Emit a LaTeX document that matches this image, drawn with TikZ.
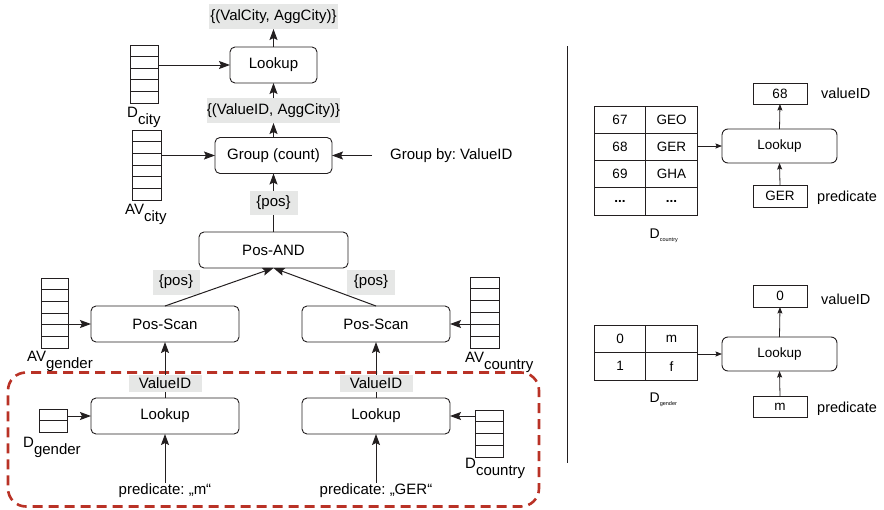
\documentclass[tikz,border=0pt]{standalone}
\usepackage{fontspec}
\setmainfont{Liberation Sans}
\usetikzlibrary{arrows.meta,calc}
\frenchspacing

\definecolor{ink}{RGB}{35,31,32}
\definecolor{lblgray}{RGB}{230,231,230}
\definecolor{zonered}{RGB}{185,50,38}

% column of storage cells: name, left x, top y, number of cells, width, height
\newcommand\cellstack[6]{%
  \node[stackcol, minimum width=#5pt, minimum height=#6pt, anchor=north west] (#1) at (#2,#3) {};
  \foreach \k in {1,...,#4}
    \draw[cellrule] ($(#1.north west)!{\k/#4}!(#1.south west)$) -- ($(#1.north east)!{\k/#4}!(#1.south east)$);
}
% subscript set at full size, lowered
\newcommand\lowsub[1]{\raisebox{-7pt}{#1}}
% tiny subscript used under the dictionary tables
\newcommand\tinysub[1]{\raisebox{-3pt}{\fontsize{5.5}{6}\selectfont #1}}

\begin{document}
\begin{tikzpicture}[x=1pt,y=-1pt,
  font=\fontsize{15}{18}\selectfont,
  op/.style={draw=ink, line width=0.9pt, rounded corners=5pt, minimum height=36pt, inner sep=0pt, outer sep=0pt},
  tag/.style={fill=lblgray, inner sep=0pt, outer sep=0pt, minimum height=25pt},
  stackcol/.style={draw=ink, line width=0.9pt, inner sep=0pt, outer sep=0pt},
  cellrule/.style={draw=ink, line width=0.9pt},
  arr/.style={draw=ink, line width=1pt, -{Stealth[length=11pt,width=8pt,inset=2pt]}},
  arrs/.style={draw=ink, line width=0.8pt, -{Stealth[length=6.5pt,width=5pt,inset=1pt]}},
  sublabel/.style={anchor=base west, inner sep=0pt},
  sbox/.style={draw=ink, line width=0.9pt, minimum width=54pt, minimum height=21pt, inner sep=0pt, outer sep=0pt},
  tablebox/.style={draw=ink, line width=0.9pt, inner sep=0pt, outer sep=0pt, minimum width=103pt},
  sidetext/.style={anchor=west, inner sep=0pt, font=\fontsize{14.5}{17}\selectfont},
  zone/.style={draw=zonered, line width=2.6pt, dash pattern=on 10pt off 6pt, rounded corners=18pt, inner sep=0pt}
]
\useasboundingbox (0,0) rectangle (884,509);

% ---------------- query plan ----------------
\node[zone, minimum width=531pt, minimum height=134pt] (lookupzone) at (273.5,439.5) {};

\node[tag, minimum width=129pt] (outTop) at (273.5,16.5) {\{(ValCity, AggCity)\}};
\node[op, minimum width=87pt]  (lookC)  at (273.5,65)    {Lookup};
\node[tag, minimum width=133pt] (outMid) at (273.5,110.5) {\{(ValueID, AggCity)\}};
\node[op, minimum width=117pt] (group)  at (273.5,155.5) {Group (count)};
\node[op, minimum width=149pt] (posand) at (273.5,250)   {Pos-AND};
\node[tag, minimum width=47pt] (posLeft)  at (176,282) {\{pos\}};
\node[tag, minimum width=48pt] (posRight) at (371,282) {\{pos\}};
\node[op, minimum width=148pt] (scanL) at (165,324) {Pos-Scan};
\node[op, minimum width=148pt] (scanR) at (376,324) {Pos-Scan};
\node[op, minimum width=148pt] (lookL) at (165,416) {Lookup};
\node[op, minimum width=148pt] (lookR) at (376,416) {Lookup};
\node[inner sep=1pt] (predL) at (165,491) {predicate: „m“};
\node[inner sep=1pt] (predR) at (376,491) {predicate: „GER“};
\node[anchor=west, inner sep=0pt] (groupby) at (390,155.5) {Group by: ValueID};
\coordinate (gbtail) at (372,155.5);

% attribute vectors and dictionaries
\cellstack{dcity}{130}{45}{5}{28}{58}
\cellstack{avcity}{132}{130}{6}{29}{70}
\cellstack{avgender}{41}{278}{6}{27}{70}
\cellstack{avcountry}{470}{277}{6}{29}{71}
\cellstack{dgender}{39}{409}{2}{28}{23}
\cellstack{dcountrycol}{475}{410}{4}{28}{47}

\node[sublabel] (lblDcity)     at (127,117) {D\lowsub{city}};
\node[sublabel] (lblAVcity)    at (125,214) {AV\lowsub{city}};
\node[sublabel] (lblAVgender)  at (27,361)  {AV\lowsub{gender}};
\node[sublabel] (lblAVcountry) at (465,362) {AV\lowsub{country}};
\node[sublabel] (lblDgender)   at (23,447)  {D\lowsub{gender}};
\node[sublabel] (lblDcountry)  at (465,468) {D\lowsub{country}};

% data flow
\draw[arr] (lookC.north) -- (outTop.south);
\draw[arr] (outMid.north) -- (lookC.south);
\draw[arr] (group.north) -- (outMid.south);
\draw[arr] (posand.north) -- (group.south)
  node[tag, minimum width=48pt, minimum height=24pt, midway] (posMid) {\{pos\}};
\draw[arr] (scanL.north) -- (posand.south);
\draw[arr] (scanR.north) -- (posand.south);
\draw[arr] (lookL.north) -- (scanL.south)
  node[tag, minimum width=73pt, minimum height=17pt, pos=0.26] (vidL) {ValueID};
\draw[arr] (lookR.north) -- (scanR.south)
  node[tag, minimum width=73pt, minimum height=17pt, pos=0.26] (vidR) {ValueID};
\draw[arr] (predL.north) -- (lookL.south);
\draw[arr] (predR.north) -- (lookR.south);

\draw[arr] (dcity.east |- lookC.west) -- (lookC.west);
\draw[arr] (avcity.east |- group.west) -- (group.west);
\draw[arr] (gbtail) -- (group.east);
\draw[arr] (avgender.east |- scanL.west) -- (scanL.west);
\draw[arr] (avcountry.west |- scanR.east) -- (scanR.east);
\draw[arr] (dgender.east |- lookL.west) -- (lookL.west);
\draw[arr] (dcountrycol.west |- lookR.east) -- (lookR.east);

% separator
\coordinate (sepTop) at (567,46);
\coordinate (sepBot) at (567,463);
\draw[ink, line width=1pt] (sepTop) -- (sepBot);

% ---------------- dictionary lookups ----------------
\begin{scope}[font=\fontsize{13.5}{16}\selectfont]
  % country dictionary
  \node[tablebox, minimum height=109pt] (dcountry) at (645.5,160.5) {};
  \draw[cellrule] (dcountry.north) -- (dcountry.south);
  \foreach \k in {1,2,3}
    \draw[cellrule] ($(dcountry.north west)!{\k/4}!(dcountry.south west)$) -- ($(dcountry.north east)!{\k/4}!(dcountry.south east)$);
  \foreach \r/\id/\val [count=\i] in {119.6/67/GEO, 146.9/68/GER, 174.1/69/GHA}{
    \node (cid\i) at (620,\r) {\id};
    \node (cval\i) at (671.5,\r) {\val};
  }
  \node (cid4) at (620,201.4) {\textbf{...}};
  \node (cval4) at (671.5,201.4) {\textbf{...}};
  \node[sublabel, font=\fontsize{14}{16}\selectfont] (lblDcountryR) at (649.5,238) {D\tinysub{country}};

  \node[op, rounded corners=6pt, minimum width=115pt, minimum height=34pt] (look1) at (779.5,146) {Lookup};
  \node[sbox] (val1) at (780,93.5) {68};
  \node[sbox, minimum height=22pt] (pred1) at (780,196) {GER};
  \node[sidetext] (vtxt1) at (821,93) {valueID};
  \node[sidetext] (ptxt1) at (817,198) {predicate};
  \draw[arrs] (dcountry.east |- look1.west) -- (look1.west);
  \draw[arrs] (look1.north) -- (val1.south);
  \draw[arrs] (pred1.north) -- (look1.south);

  % gender dictionary
  \node[tablebox, minimum height=55pt] (dgenderR) at (645.5,352.5) {};
  \draw[cellrule] (dgenderR.north) -- (dgenderR.south);
  \draw[cellrule] (dgenderR.west) -- (dgenderR.east);
  \node (gid1) at (620,338.8) {0};
  \node (gval1) at (671.5,338.8) {m};
  \node (gid2) at (620,366.2) {1};
  \node (gval2) at (671.5,366.2) {f};
  \node[sublabel, font=\fontsize{14}{16}\selectfont] (lblDgenderR) at (649.5,402) {D\tinysub{gender}};

  \node[op, rounded corners=6pt, minimum width=115pt, minimum height=34pt] (look2) at (779.5,354) {Lookup};
  \node[sbox, minimum height=22pt] (val2) at (780,296) {0};
  \node[sbox] (pred2) at (780,406.5) {m};
  \node[sidetext] (vtxt2) at (821,299) {valueID};
  \node[sidetext] (ptxt2) at (817,409) {predicate};
  \draw[arrs] (dgenderR.east |- look2.west) -- (look2.west);
  \draw[arrs] (look2.north) -- (val2.south);
  \draw[arrs] (pred2.north) -- (look2.south);
\end{scope}
\end{tikzpicture}
\end{document}
